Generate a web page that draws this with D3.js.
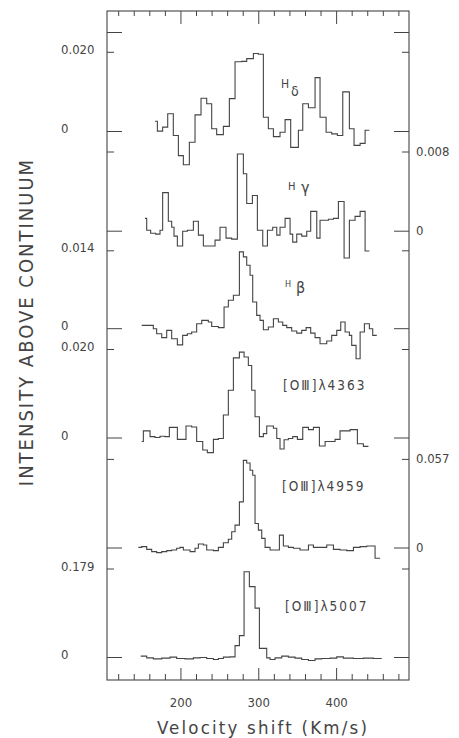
<!DOCTYPE html>
<html><head><meta charset="utf-8">
<script src="https://cdn.jsdelivr.net/npm/d3@7/dist/d3.min.js"></script>
<style>body{margin:0;background:#fff}svg{display:block}</style>
</head><body>
<svg id="chart" width="459" height="738"></svg>
<script>
// ---------------- DATA ----------------
const xMinorTicks = [120,140,160,180,200,220,240,260,280,300,320,340,360,380,400,420,440,460,480];
const xTickLabels = [200,300,400];
const lineNames = ["Hδ","Hγ","Hβ","[OⅢ]λ4363","[OⅢ]λ4959","[OⅢ]λ5007"];
const scaleValues = [0.020,0.008,0.014,0.020,0.057,0.179];
const scaleLabels = ["0.020","0.008","0.014","0.020","0.057","0.179"];
const extraTickHdelta = 0.025;

// bin edges (km/s) and intensities (above continuum)
const hdeltaV = [166.7,169.7,176.5,183.0,190.2,196.7,203.1,210.8,218.1,225.8,233.1,239.5,245.9,254.5,262.2,269.5,278.1,284.5,293.1,299.5,305.9,312.3,318.8,327.3,333.8,341.0,350.9,356.5,363.8,372.3,378.7,386.5,393.7,401.0,407.9,416.4,422.4,430.2,436.6,442.1];
const hdeltaI = [0.0026,0.0001,0.0011,0.0045,-0.0010,-0.0061,-0.0084,-0.0027,0.0042,0.0084,0.0070,0.0007,-0.0008,0.0013,0.0083,0.0176,0.0177,0.0184,0.0197,0.0195,0.0036,0.0007,-0.0013,-0.0002,0.0030,-0.0040,0.0003,0.0070,0.0060,0.0136,0.0036,-0.0002,-0.0006,-0.0010,0.0100,0.0007,-0.0035,-0.0030,0.0003];

const hgammaV = [153.8,156.0,161.1,167.5,173.1,176.5,183.8,188.1,191.1,195.4,202.2,208.2,216.0,222.4,228.8,237.4,243.8,250.2,257.9,265.2,272.5,280.2,284.5,291.8,298.2,305.1,311.1,317.9,323.1,327.3,333.8,340.2,343.6,348.8,355.2,361.6,366.7,374.5,378.7,389.5,395.9,402.3,409.6,416.4,423.7,430.2,436.6,442.1];
const hgammaI = [0.0013,0.0001,-0.0002,-0.0003,0.0001,0.0039,0.0010,0.0004,-0.0005,-0.0015,0.0000,0.0001,0.0010,-0.0004,-0.0015,-0.0015,-0.0009,0.0004,-0.0007,-0.0008,0.0078,0.0058,0.0028,0.0036,0.0001,-0.0015,0.0001,0.0004,-0.0004,0.0004,0.0013,-0.0003,-0.0011,-0.0003,-0.0005,0.0000,0.0020,-0.0007,0.0011,0.0012,0.0013,0.0030,-0.0027,0.0011,0.0015,0.0020,-0.0020];

const hbetaV = [149.6,156.8,164.5,168.8,175.3,181.7,188.1,195.4,202.2,208.2,213.8,220.2,226.7,235.2,239.5,248.1,255.4,260.9,267.4,275.1,280.2,284.5,288.8,292.2,297.3,301.6,305.9,312.3,318.8,325.2,330.8,335.9,342.3,348.8,355.2,360.8,366.7,372.3,378.7,387.3,393.7,400.2,405.3,410.9,416.4,419.4,425.0,430.2,435.7,442.1,446.4,451.6];
const hbetaI = [0.0006,0.0006,0.0000,-0.0009,-0.0016,-0.0003,-0.0018,-0.0029,-0.0012,-0.0009,-0.0006,0.0009,0.0015,0.0012,0.0004,0.0002,0.0039,0.0051,0.0060,0.0138,0.0129,0.0114,0.0096,0.0048,0.0024,0.0015,-0.0002,0.0003,0.0018,0.0012,0.0006,0.0002,-0.0004,-0.0008,-0.0003,0.0002,-0.0008,-0.0016,-0.0027,-0.0022,-0.0012,-0.0003,0.0012,-0.0006,-0.0012,-0.0030,-0.0054,-0.0006,0.0009,0.0000,-0.0012];

const o4363V = [149.6,151.7,160.3,166.7,173.1,179.5,185.1,195.4,206.5,213.8,220.2,228.0,233.9,241.7,248.1,254.5,260.9,267.4,275.1,281.1,286.6,290.9,295.2,300.8,305.9,310.2,318.8,323.1,327.3,332.5,338.0,343.6,349.6,356.5,363.8,370.2,377.9,385.2,398.0,404.4,417.3,426.7,434.4,440.9];
const o4363I = [-0.0008,0.0016,0.0003,0.0001,0.0004,0.0003,0.0024,-0.0003,0.0027,0.0025,-0.0008,-0.0027,-0.0033,-0.0003,-0.0001,0.0052,0.0108,0.0181,0.0194,0.0183,0.0164,0.0108,0.0048,0.0003,0.0010,0.0027,0.0022,-0.0001,-0.0025,-0.0004,-0.0001,0.0003,-0.0003,0.0024,0.0019,0.0024,-0.0018,-0.0008,-0.0003,0.0016,0.0019,-0.0013,-0.0019];

const o4959V = [145.3,149.6,156.0,162.4,168.8,175.3,181.7,188.1,194.5,198.8,203.1,211.7,218.1,222.4,228.8,233.1,241.7,248.1,254.5,260.9,265.2,269.5,275.1,280.2,284.5,288.8,292.2,295.2,299.5,303.8,308.1,314.5,326.5,331.6,338.0,344.5,353.0,363.8,370.2,387.3,395.9,404.4,413.0,421.6,430.2,438.7,449.4,455.9];
const o4959I = [0.0004,0.0009,-0.0009,-0.0023,-0.0030,-0.0023,-0.0017,-0.0013,-0.0002,0.0004,-0.0013,-0.0023,-0.0002,0.0026,0.0019,-0.0013,-0.0017,0.0004,0.0034,0.0056,0.0105,0.0147,0.0297,0.0564,0.0547,0.0500,0.0468,0.0158,0.0115,0.0062,0.0004,-0.0013,0.0083,0.0013,0.0004,-0.0002,-0.0013,0.0019,0.0004,0.0019,-0.0009,-0.0013,-0.0017,0.0004,0.0009,0.0013,-0.0066];

const o5007V = [148.3,156.0,164.5,175.3,186.0,194.5,205.2,216.0,224.5,233.1,241.7,248.1,254.5,263.1,269.5,275.1,281.1,287.9,295.2,300.8,310.2,314.5,320.9,329.5,338.0,346.6,355.2,363.8,372.3,380.9,391.6,400.2,408.7,421.6,434.4,447.3,458.0];
const o5007I = [0.0027,-0.0007,-0.0027,-0.0013,0.0007,-0.0020,-0.0027,-0.0007,0.0000,-0.0020,-0.0040,-0.0020,0.0007,0.0013,0.0241,0.0442,0.1735,0.1434,0.0998,0.0184,-0.0007,-0.0040,-0.0007,0.0027,0.0007,-0.0013,-0.0040,-0.0060,-0.0027,-0.0020,-0.0013,0.0013,-0.0013,-0.0020,-0.0013,-0.0020];

const seriesV = [hdeltaV,hgammaV,hbetaV,o4363V,o4959V,o5007V];
const seriesI = [hdeltaI,hgammaI,hbetaI,o4363I,o4959I,o5007I];

// ---------------- LAYOUT ----------------
const frame = {x0:107, x1:409, y0:11, y1:680};
const basePx = [131.5,231.2,328.7,438.0,548.0,657.5];
const topPx  = [52.3,152.0,250.8,349.5,459.4,569.0];
const sides  = ["left","right","left","left","right","left"];
const ink = "#444";
const ff = "'DejaVu Sans Condensed','DejaVu Sans',sans-serif";

const svg = d3.select("#chart");
svg.append("rect").attr("width",459).attr("height",738).attr("fill","#fff");

const x = d3.scaleLinear().domain([105,493]).range([frame.x0, frame.x1]);
const yScales = scaleValues.map((v,i)=>d3.scaleLinear().domain([0,v]).range([basePx[i], topPx[i]]));

// frame
svg.append("rect").attr("x",frame.x0).attr("y",frame.y0)
  .attr("width",frame.x1-frame.x0).attr("height",frame.y1-frame.y0)
  .attr("fill","none").attr("stroke",ink).attr("stroke-width",1.1);

// x ticks (top & bottom)
const gx = svg.append("g").attr("stroke",ink).attr("stroke-width",1);
xMinorTicks.forEach(t=>{
  const major = xTickLabels.includes(t);
  gx.append("line").attr("x1",x(t)).attr("x2",x(t)).attr("y1",frame.y1).attr("y2",frame.y1-(major?12:6));
  gx.append("line").attr("x1",x(t)).attr("x2",x(t)).attr("y1",frame.y0).attr("y2",frame.y0+(major?13:5));
});
svg.append("g").selectAll("text").data(xTickLabels).join("text")
  .attr("x",d=>x(d)).attr("y",707).attr("text-anchor","middle")
  .attr("font-family",ff).attr("font-size",13)
  .attr("fill",ink).text(d=>d);

// y ticks both sides
const gy = svg.append("g").attr("stroke",ink).attr("stroke-width",1);
function yTick(yv, long){
  const L = long?15:7;
  gy.append("line").attr("x1",frame.x0).attr("x2",frame.x0+L).attr("y1",yv).attr("y2",yv);
  gy.append("line").attr("x1",frame.x1-L).attr("x2",frame.x1).attr("y1",yv).attr("y2",yv);
}
yTick(yScales[0](extraTickHdelta), true);
yScales.forEach((s,i)=>{ yTick(s(0), true); yTick(s(scaleValues[i]), false); });

// y labels
const lab = svg.append("g").attr("font-family",ff).attr("font-size",13).attr("fill",ink);
yScales.forEach((s,i)=>{
  const lx = sides[i]==="left" ? 61 : 416;
  const dy = sides[i]==="left" ? -2 : 0;
  lab.append("text").attr("x",lx).attr("y",s(scaleValues[i])+dy).attr("dominant-baseline","middle").text(scaleLabels[i]);
  lab.append("text").attr("x",lx).attr("y",s(0)+dy).attr("dominant-baseline","middle").text("0");
});

// spectra
const line = d3.line().x(d=>x(d[0])).y(d=>d[1]).curve(d3.curveStepAfter);
seriesV.forEach((vs,i)=>{
  const vals = seriesI[i];
  const pts = vs.map((v,j)=>[v, yScales[i](vals[Math.min(j, vals.length-1)])]);
  svg.append("path").attr("d",line(pts)).attr("fill","none")
    .attr("stroke",ink).attr("stroke-width",1.1);
});

// line labels
function hLabel(xh,yh,fh,g,xg,yg,fg){
  const t = svg.append("g").attr("fill",ink).attr("font-family",ff);
  t.append("text").attr("x",xh).attr("y",yh).attr("font-size",fh).text("H");
  t.append("text").attr("x",xg).attr("y",yg).attr("font-size",fg).text(g);
}
hLabel(281,88,12,"δ",291,96,14);
hLabel(288,190,11,"γ",301,193,16);
hLabel(285,287,9,"β",296,293,16);
[[283,390,3],[282,491,4],[285,611,5]].forEach(([lx,ly,k])=>{
  svg.append("text").attr("x",lx).attr("y",ly).attr("font-family",ff).attr("font-size",13.5)
    .attr("letter-spacing",2).attr("fill",ink).text(lineNames[k]);
});

// axis titles
svg.append("text").attr("x",263).attr("y",734).attr("text-anchor","middle")
  .attr("font-family",ff).attr("font-size",18.5).attr("fill",ink).attr("letter-spacing",2.2)
  .text("Velocity shift (Km/s)");
svg.append("text").attr("transform","translate(33,322) rotate(-90)").attr("text-anchor","middle")
  .attr("font-family",ff).attr("font-size",20).attr("fill",ink).attr("letter-spacing",2)
  .text("INTENSITY ABOVE CONTINUUM");
</script>
</body></html>
